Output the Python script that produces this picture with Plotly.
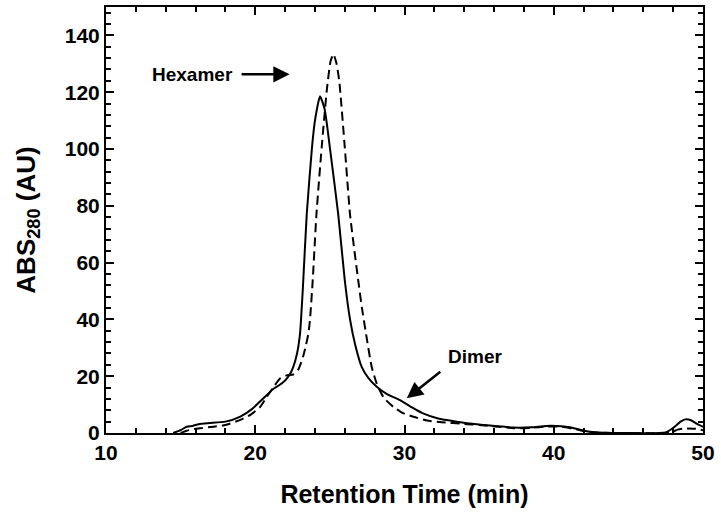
import plotly.graph_objects as go

# retention time (min) and absorbance (AU)
solid_t = [14.5, 15.0, 15.4, 15.8, 16.3, 17.0, 18.0, 19.0, 19.8, 20.3, 20.8, 21.2, 21.6, 22.0,
           22.3, 22.55, 22.8, 23.0, 23.18, 23.45, 23.8, 24.0, 24.34, 24.65, 25.0, 25.56, 26.0,
           26.35, 26.7, 27.13, 27.6, 28.14, 28.8, 29.7, 30.5, 31.2, 32.2, 33.5, 35.0, 36.3,
           37.3, 38.5, 39.5, 40.5, 41.1, 41.7, 42.2, 43.0, 47.5, 48.0, 48.5, 48.8, 49.2, 49.6, 50.0]
solid_abs = [0, 1.0, 2.2, 2.5, 3.2, 3.5, 4.0, 5.8, 8.5, 11.0, 13.5, 15.5, 16.8, 18.5,
             20.5, 23.3, 28, 35, 50, 77, 100.5, 110, 118.6, 114, 100.5, 77, 53.7,
             40, 31, 23.3, 19.2, 16.3, 13.8, 11.6, 9.0, 7.0, 5.2, 4.0, 3.0, 2.4,
             1.9, 2.0, 2.5, 2.4, 2.0, 1.2, 0.6, 0.2, 0.2, 1.8, 4.0, 4.8, 4.5, 3.2, 2.2]

dashed_t = [15.0, 15.4, 16.0, 17.2, 18.0, 19.0, 19.7, 20.3, 20.77, 21.2, 21.66, 22.1, 22.55,
            22.9, 23.2, 23.4, 23.56, 23.67, 23.85, 24.1, 24.45, 24.8, 25.05, 25.24, 25.45,
            25.63, 26.0, 26.35, 26.9, 27.15, 27.45, 27.8, 28.14, 28.6, 29.25, 29.9, 30.6,
            31.5, 32.5, 34.0, 35.0, 36.3, 37.3, 38.5, 39.5, 40.5, 41.5, 42.2, 43.0, 47.8,
            48.3, 48.8, 49.5, 50.0]
dashed_abs = [0, 0.8, 1.5, 2.2, 2.8, 4.6, 6.5, 9.0, 12.7, 16.0, 19.2, 20.3, 20.6,
              22.5, 26.8, 31, 35, 40, 53.7, 77, 100.5, 121, 131, 133.4, 130,
              123.9, 100.5, 77, 53.7, 44, 34, 23.3, 17.4, 12.5, 9.2, 7.0, 5.7,
              4.4, 3.8, 3.2, 2.8, 2.2, 1.7, 1.8, 2.3, 2.2, 1.3, 0.5, 0.1, 0.1,
              1.2, 1.6, 1.5, 1.0]

x_ticks = [10, 20, 30, 40, 50]
y_ticks = [0, 20, 40, 60, 80, 100, 120, 140]

fnt = "Arial, Liberation Sans, sans-serif"
label_font = dict(family=fnt, size=19, color="black", weight="bold")

fig = go.Figure()
fig.add_trace(go.Scatter(x=solid_t, y=solid_abs, mode="lines",
                         line=dict(color="black", width=2, shape="spline", smoothing=0.5)))
fig.add_trace(go.Scatter(x=dashed_t, y=dashed_abs, mode="lines",
                         line=dict(color="black", width=2, dash="9px,5px", shape="spline", smoothing=0.5)))

# labels with arrows
fig.add_annotation(x=22.3, y=126.3, ax=15.8, ay=126.3, axref="x", ayref="y",
                   showarrow=True, arrowhead=2, arrowsize=1.3, arrowwidth=2.5,
                   startstandoff=7, arrowcolor="black", text="Hexamer", font=label_font)
fig.add_annotation(x=30.15, y=12.2, ax=32.5, ay=22, axref="x", ayref="y",
                   showarrow=True, arrowhead=2, arrowsize=1.3, arrowwidth=2.5,
                   arrowcolor="black", text="")
fig.add_annotation(x=34.7, y=26.8, text="Dimer", showarrow=False, font=label_font)

axis_common = dict(showgrid=False, zeroline=False, showline=True, linecolor="black", linewidth=2,
                   mirror="ticks", ticks="inside", ticklen=8, tickwidth=2, tickcolor="black",
                   tickfont=dict(family=fnt, size=21, color="black", weight="bold"))
fig.update_xaxes(range=[10, 50], tickvals=x_ticks,
                 minor=dict(dtick=2, ticks="inside", ticklen=5, tickwidth=2, tickcolor="black"),
                 title=dict(text="Retention Time (min)", standoff=22,
                            font=dict(family=fnt, size=25, color="black", weight="bold")),
                 **axis_common)
fig.update_yaxes(range=[0, 150], tickvals=y_ticks,
                 minor=dict(dtick=4, ticks="inside", ticklen=5, tickwidth=2, tickcolor="black"),
                 title=dict(text="ABS<sub>280</sub> (AU)", standoff=22,
                            font=dict(family=fnt, size=26, color="black", weight="bold")),
                 **axis_common)

fig.update_layout(width=721, height=523, showlegend=False,
                  plot_bgcolor="white", paper_bgcolor="white",
                  margin=dict(l=106, r=18, t=5, b=90))

fig.write_html("out.html", config={"displayModeBar": False},
               post_script="document.body.style.margin='0';")
